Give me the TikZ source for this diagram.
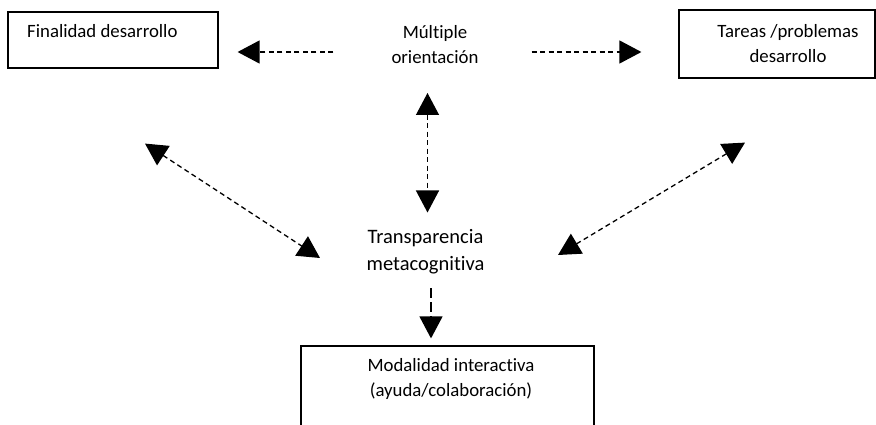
\documentclass[tikz,border=0pt]{standalone}
\usepackage{fontspec}
\setmainfont{Carlito}[Ligatures=NoCommon]
\usetikzlibrary{arrows.meta}
\tikzset{
  box/.style={draw, line width=1.2pt, inner sep=0pt},
  txt/.style={font=\fontsize{18.8}{25}\selectfont, align=center, inner sep=0pt},
  link/.style={line width=1.3pt, dash pattern=on 5pt off 3.5pt, -{Triangle[length=22pt,width=23pt]}},
  dlink/.style={line width=1.3pt, dash pattern=on 5pt off 3.5pt, {Triangle[length=22pt,width=23pt]}-{Triangle[length=22pt,width=23pt]}}
}
\begin{document}
\begin{tikzpicture}[x=1pt, y=-1pt]
      \useasboundingbox (0,0) rectangle (876,425);
      % boxes
      \node[box, minimum width=210, minimum height=56] (finbox) at (113,40) {};
      \node[box, minimum width=196, minimum height=68] (tareasbox) at (777,44) {};
      \node[box, minimum width=293, minimum height=110] (modalbox) at (447.5,401) {};
      % texts
      \node[txt, anchor=base west] (fin) at (27,38) {Finalidad desarrollo};
      \node[txt] (tareas) at (788,44) {Tareas /problemas\\desarrollo};
      \node[txt] (mult) at (435,45) {Múltiple\\orientación};
      \node[txt, font=\fontsize{20.5}{27}\selectfont] (transp) at (425.5,252) {Transparencia\\metacognitiva};
      \node[txt] (modal) at (451,379) {Modalidad interactiva\\(ayuda/colaboración)};
      % arrows
      \draw[link, shorten <=58pt, shorten >=19pt] ([yshift=-7pt]mult.west) -- ([yshift=-12pt]finbox.east);
      \draw[link, shorten <=53pt, shorten >=37pt] ([yshift=-7pt]mult.east) -- ([yshift=-8pt]tareasbox.west);
      \draw[dlink] ([shift={(-7.5,48)}]mult.center) -- ([shift={(2,-39.5)}]transp.center);
      \draw[dlink] ([shift={(32,75)}]finbox.south) -- ([shift={(-105.5,6)}]transp.center);
      \draw[dlink] ([shift={(-32,64)}]tareasbox.south) -- ([shift={(132.5,3)}]transp.center);
      \draw[link, dash pattern=on 10pt off 4pt] ([shift={(5.5,36)}]transp.center) -- ([shift={(-16.5,-7)}]modalbox.north);
\end{tikzpicture}
\end{document}
